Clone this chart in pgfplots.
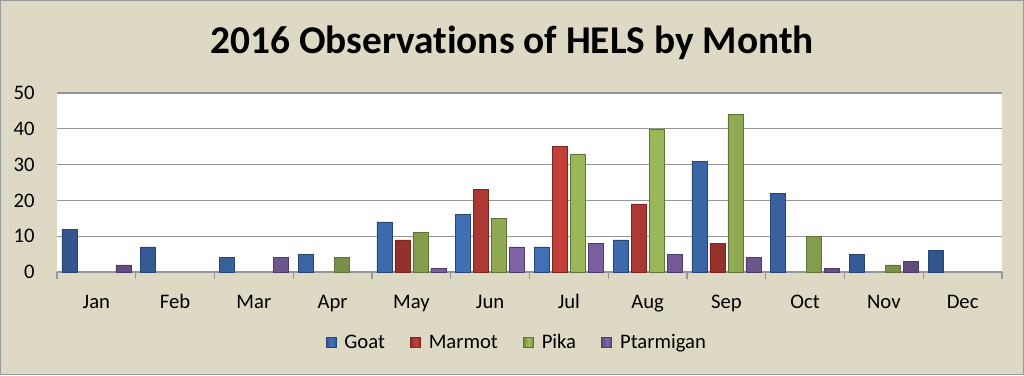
\documentclass[border=0pt]{standalone}
\usepackage{pgfplots}
\pgfplotsset{compat=1.18}
\usepackage{fontspec}
\setmainfont{Carlito}[Ligatures=NoCommon]
\definecolor{bg}{RGB}{221,217,196}
\definecolor{cgoat}{RGB}{66,114,186}
\definecolor{cmarmot}{RGB}{196,64,58}
\definecolor{cpika}{RGB}{160,190,92}
\definecolor{cptar}{RGB}{128,100,168}
\definecolor{gridc}{RGB}{150,150,150}
\begin{document}
\begin{tikzpicture}
\path[use as bounding box] (0pt,0pt) rectangle (768pt,281.25pt);
\fill[bg] (0pt,0pt) rectangle (768pt,281.25pt);
\draw[gray!80, line width=1pt] (0.5pt,0.5pt) rectangle (767.5pt,280.75pt);
\node[font=\bfseries\fontsize{29.5}{34}\selectfont, anchor=base] at (384pt,241pt) {2016 Observations of HELS by Month};
\begin{axis}[
  at={(42.75pt,77.25pt)}, anchor=south west,
  scale only axis, width=708.75pt, height=134.25pt,
  xmin=-0.5, xmax=11.5, ymin=0, ymax=50,
  ytick={0,10,...,50},
  xtick={0,...,11},
  xticklabels={Jan,Feb,Mar,Apr,May,Jun,Jul,Aug,Sep,Oct,Nov,Dec},
  minor xtick={-0.5,0.5,...,11.5},
  major x tick style={draw=none},
  minor x tick style={draw=gridc, line width=0.8pt},
  minor tick length=5pt,
  tick align=outside,
  axis x line*=bottom,
  axis y line*=left,
  y axis line style={draw=none},
  ytick style={draw=none},
  x axis line style={draw=gridc, line width=1pt, -},
  ymajorgrids,
  major grid style={draw=gridc, line width=1pt},
  axis background/.style={fill=white},
  /pgf/number format/assume math mode=true,
  tick label style={font=\fontsize{15.5}{18}\selectfont},
  yticklabel style={anchor=east, xshift=-9pt},
  xticklabel style={anchor=base, yshift=-23pt},
  legend style={at={(0.487,-0.395)}, anchor=center, legend columns=4, draw=none, fill=none,
    font=\fontsize{15.5}{18}\selectfont,
    /tikz/every odd column/.append style={column sep=4pt},
    /tikz/every even column/.append style={column sep=17pt}},
  legend image code/.code={\draw[#1] (0pt,-3.75pt) rectangle (7.5pt,3.75pt);},
]
\addplot[ybar, bar width=0.19, bar shift=-0.343, draw=cgoat!60!black, left color=cgoat!75!black, right color=cgoat!75!black, middle color=cgoat] coordinates {(0,12)(1,7)(2,4)(3,5)(4,14)(5,16)(6,7)(7,9)(8,31)(9,22)(10,5)(11,6)};
\addplot[ybar, bar width=0.19, bar shift=-0.114, draw=cmarmot!60!black, left color=cmarmot!75!black, right color=cmarmot!75!black, middle color=cmarmot] coordinates {(4,9)(5,23)(6,35)(7,19)(8,8)};
\addplot[ybar, bar width=0.19, bar shift=0.114, draw=cpika!60!black, left color=cpika!75!black, right color=cpika!75!black, middle color=cpika] coordinates {(3,4)(4,11)(5,15)(6,33)(7,40)(8,44)(9,10)(10,2)};
\addplot[ybar, bar width=0.19, bar shift=0.343, draw=cptar!60!black, left color=cptar!75!black, right color=cptar!75!black, middle color=cptar] coordinates {(0,2)(2,4)(4,1)(5,7)(6,8)(7,5)(8,4)(9,1)(10,3)};
\legend{Goat,Marmot,Pika,Ptarmigan}
\end{axis}
\end{tikzpicture}
\end{document}
